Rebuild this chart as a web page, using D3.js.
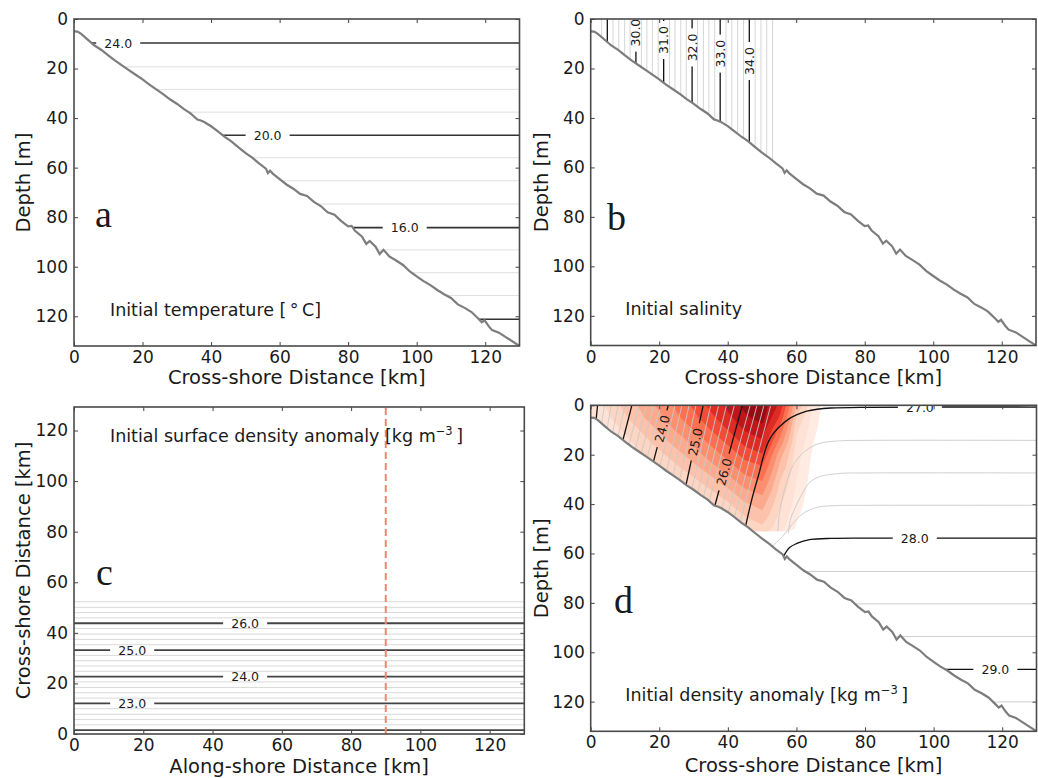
<!DOCTYPE html>
<html><head><meta charset="utf-8">
<script src="https://cdn.jsdelivr.net/npm/d3@7"></script>
<style>
body{margin:0;background:#fff}
svg{display:block}
text{font-family:"DejaVu Sans",sans-serif;fill:#1a1a1a}
</style>
</head><body>
<svg id="chart" width="1038" height="778"></svg>
<script>
// ---------------- DATA ----------------
const xTicks = [0,20,40,60,80,100,120];
const yTicks = [0,20,40,60,80,100,120];

// bathymetry (cross-shore km, depth m)
const bathyX = [0,1,2,4,6,8,10,12,14,16,18,20,22,24,26,28,30,32,34,36,37,38,40,42,44,46,48,50,52,54,56,56.6,57.2,58,60,62,64,66,68,70,72,74,76,78,80,81,82,84,85.3,86.3,88,89.2,90.3,92,94,96,98,100,102,104,106,108,110,112,114,116,118,119,119.8,121,122,124,126,128,130];
const bathyDepth = [5.0,5.1,5.9,8.3,10.7,12.5,14.7,16.8,18.7,20.6,22.5,24.4,26.5,28.4,30.3,32.4,34.2,36.3,38.1,40.6,41.0,41.6,43.3,45.4,47.6,49.5,51.8,54.0,56.0,58.3,60.4,62.2,61.2,62.4,64.6,66.8,68.5,70.6,71.4,73.8,75.5,78.0,79.0,81.6,83.7,83.5,85.5,87.8,90.8,89.6,91.9,94.9,93.2,95.8,97.5,99.3,101.9,103.9,105.8,107.4,109.4,111.1,112.6,115.2,116.6,118.3,121.0,122.4,121.6,124.0,125.6,126.6,128.4,130.2,132.0];

// panel a: temperature contours (horizontal)
const tempLevels = [24,23,22,21,20,19,18,17,16,15,14,13,12];
const tempDepth  = [9.7,19.3,28.4,37.6,46.9,56.0,65.3,74.7,84.2,93.2,102.4,111.6,121.2];
const tempLabelLevels = [24,20,16];
const tempLabelX      = [12.9,56.5,96.5];

// panel b: salinity contours (vertical)
const saltLevels = [28.8,29.0,29.2,29.4,29.6,29.8,30.0,30.2,30.4,30.6,30.8,31.0,31.2,31.4,31.6,31.8,32.0,32.2,32.4,32.6,32.8,33.0,33.2,33.4,33.6,33.8,34.0,34.2,34.4,34.6,34.8];
const saltX      = [3.2,4.85,6.5,8.2,9.9,11.5,13.2,14.8,16.4,18.0,19.7,21.3,23.0,24.6,26.3,27.9,29.6,31.2,32.9,34.5,36.2,37.8,39.5,41.2,42.9,44.6,46.3,48.0,49.7,51.4,53.1];
const saltLabelLevels = [30,31,32,33,34];
const saltLabelDepth  = [5.5,8.5,11.5,14.0,17.0];

// panel c: surface density contours (horizontal)
const sdLevels = [22.0,22.2,22.4,22.6,22.8,23.0,23.2,23.4,23.6,23.8,24.0,24.2,24.4,24.6,24.8,25.0,25.2,25.4,25.6,25.8,26.0,26.2,26.4,26.6,26.8];
const sdY      = [1.5,3.6,5.7,7.8,10.0,12.1,14.2,16.3,18.4,20.6,22.7,24.8,26.9,29.0,31.1,33.2,35.3,37.4,39.5,41.7,43.8,45.9,48.0,50.1,52.3];
const sdLabelLevels = [26,25,24,23];
const sdLabelX      = [49.4,16.8,49.4,16.8];
const sectionX = 90;

// panel d: plume (tilted) density contours
const plumeLevels = [22.0,22.2,22.4,22.6,22.8,23.0,23.2,23.4,23.6,23.8,24.0,24.2,24.4,24.6,24.8,25.0,25.2,25.4,25.6,25.8,26.0,26.2,26.4,26.6,26.8];
const plumeTopX   = [2.0,4.0,6.0,8.0,10.0,12.0,14.1,16.2,18.3,20.4,22.6,24.6,26.6,28.7,30.7,32.8,35.0,37.3,39.6,41.9,44.2,46.5,48.5,50.5,52.5];
const plumeBotX   = [1.6,3.2,4.8,6.4,8.0,9.4,11.2,13.0,14.8,16.5,18.3,20.2,22.1,24.0,25.9,27.8,29.5,31.2,32.9,34.6,36.2,38.2,40.1,41.9,43.6];
const plumeLabelLevels = [24,25,26];
const plumeLabelDepth  = [9.5,14.8,27.0];

// panel d: shelf density contours (x km, depth m)
const shelfLevels = [27.0,27.25,27.5,27.75,28.0,28.25,28.5,28.75,29.0,29.25];
const shelfPaths = [
  [[45.0,50],[47,38],[49.2,27],[50.5,20],[51.8,14.8],[53.5,11],[55.2,8.5],[57.5,5.8],[60,3.9],[63,2.4],[66,1.6],[70,1.1],[80,0.8],[130,0.7]],
  [[54.6,51],[55,44],[56.2,36],[58.6,25.5],[61,20.5],[63.9,17.2],[67,15.3],[72.6,14.4],[80,14.2],[130,14.2]],
  [[57.6,52],[58.3,46],[60,40.4],[62,35],[63.9,31.2],[67,28.8],[72.6,27.6],[80,27.4],[130,27.4]],
  [[53,57],[56,53],[59.5,47],[62.5,43.3],[66.3,41.2],[72,40.6],[80,40.5],[130,40.5]],
  [[56.3,61],[58,57.6],[60,56],[62,55],[64.2,54.3],[70,53.9],[80,53.8],[130,53.8]],
  [[60,67.3],[130,67.3]],
  [[70,80.4],[130,80.4]],
  [[80,93.6],[130,93.6]],
  [[95,106.9],[130,106.9]],
  [[110,120.1],[130,120.1]]
];
const shelfLabelLevels = [27.0,28.0,29.0];
const shelfLabelX      = [96,94.5,118];

// panel d: shading field (Reds intensity) on grid
const heatX = [0,5,10,15,20,25,30,35,40,45,50,55,60,65,70];
const heatDepth = [0,5,10,15,20,25,30,35,40,45,50];
const heatRows = [
  [0.09,0.14,0.21,0.28,0.36,0.45,0.55,0.66,0.77,0.87,0.90,0.72,0.25,0.07,0],
  [0.07,0.12,0.18,0.25,0.32,0.41,0.50,0.60,0.71,0.82,0.88,0.62,0.18,0.06,0],
  [0.06,0.10,0.14,0.20,0.27,0.35,0.43,0.53,0.63,0.75,0.80,0.50,0.14,0.05,0],
  [0.05,0.08,0.11,0.16,0.22,0.29,0.36,0.45,0.55,0.66,0.72,0.40,0.12,0.04,0],
  [0.04,0.07,0.09,0.13,0.17,0.23,0.30,0.38,0.46,0.57,0.62,0.30,0.10,0.03,0],
  [0.03,0.06,0.08,0.10,0.13,0.18,0.24,0.31,0.39,0.48,0.52,0.25,0.09,0.025,0],
  [0.03,0.05,0.07,0.09,0.11,0.13,0.18,0.24,0.31,0.40,0.44,0.20,0.08,0.02,0],
  [0.02,0.04,0.06,0.08,0.10,0.11,0.13,0.18,0.24,0.32,0.36,0.17,0.07,0.015,0],
  [0.02,0.03,0.05,0.07,0.09,0.10,0.11,0.13,0.18,0.25,0.29,0.14,0.06,0.01,0],
  [0.02,0.03,0.04,0.06,0.08,0.09,0.10,0.11,0.13,0.19,0.23,0.12,0.045,0.01,0],
  [0.02,0.03,0.04,0.05,0.07,0.08,0.09,0.10,0.11,0.14,0.17,0.10,0.035,0.01,0]
];
const heatThresholds = [0.04,0.08,0.13,0.19,0.26,0.34,0.43,0.53,0.63,0.74,0.84];
const heatMaxDepth = 51;

// ---------------- DRAWING ----------------
const svg = d3.select('#chart');
const defs = svg.append('defs');
let uid = 0;
const bathyScale = d3.scaleLinear().domain(bathyX).range(bathyDepth);

function panel(box, yDom, invert) {
  const x = d3.scaleLinear().domain([0,130]).range([box.l, box.r]);
  const y = d3.scaleLinear().domain(yDom).range(invert ? [box.t, box.b] : [box.b, box.t]);
  const g = svg.append('g');
  const id = 'rc' + (uid++);
  defs.append('clipPath').attr('id', id).append('rect')
    .attr('x', box.l).attr('y', box.t).attr('width', box.r - box.l).attr('height', box.b - box.t);
  return {x, y, g, box, rc: id};
}
function waterClip(p) {
  const id = 'wc' + (uid++);
  const pts = [[0,0],[130,0]].concat(bathyX.map((v,i)=>[v,bathyDepth[i]]).reverse());
  defs.append('clipPath').attr('id', id).append('path')
    .attr('d', d3.line().x(d=>p.x(d[0])).y(d=>p.y(d[1]))(pts) + 'Z');
  return id;
}
function addLabel(layer, lineSel, px, py, angle, txt, fs, pad) {
  const id = 'mk' + (uid++);
  const w = txt.length * 0.6 * fs + pad, h = fs + 2;
  const m = defs.append('mask').attr('id', id).attr('maskUnits','userSpaceOnUse')
    .attr('x',0).attr('y',0).attr('width',1038).attr('height',778);
  m.append('rect').attr('x',0).attr('y',0).attr('width',1038).attr('height',778).attr('fill','#fff');
  m.append('rect').attr('x',-w/2).attr('y',-h/2).attr('width',w).attr('height',h).attr('fill','#000')
    .attr('transform',`translate(${px},${py}) rotate(${angle})`);
  lineSel.attr('mask', `url(#${id})`);
  layer.append('text').attr('transform',`translate(${px},${py}) rotate(${angle})`)
    .attr('text-anchor','middle').attr('dy','0.36em').attr('font-size',fs).attr('fill','#222').text(txt);
}
function bathyLine(p) {
  p.g.append('path')
    .attr('clip-path', `url(#${p.rc})`)
    .attr('d', d3.line().x((d,i)=>p.x(bathyX[i])).y((d,i)=>p.y(bathyDepth[i]))(bathyX))
    .attr('fill','none').attr('stroke','#7d7d7d').attr('stroke-width',2.2);
}
function axes(p, xlab, xlabY, ylab, ylabX) {
  const {x, y, g, box} = p;
  const fmt = d3.format('d');
  const style = sel => {
    sel.select('.domain').remove();
    sel.attr('font-family','DejaVu Sans, sans-serif').attr('font-size',17);
    sel.selectAll('.tick line').attr('stroke','#444').attr('stroke-width',1);
    sel.selectAll('.tick text').attr('fill','#1a1a1a');
  };
  g.append('g').attr('transform',`translate(0,${box.b})`)
    .call(d3.axisBottom(x).tickValues(xTicks).tickFormat(fmt).tickSize(-4).tickPadding(5)).call(style);
  g.append('g').attr('transform',`translate(0,${box.t})`)
    .call(d3.axisTop(x).tickValues(xTicks).tickFormat('').tickSize(-4)).call(style);
  g.append('g').attr('transform',`translate(${box.l},0)`)
    .call(d3.axisLeft(y).tickValues(yTicks).tickFormat(fmt).tickSize(-4).tickPadding(6)).call(style);
  g.append('g').attr('transform',`translate(${box.r},0)`)
    .call(d3.axisRight(y).tickValues(yTicks).tickFormat('').tickSize(-4)).call(style);
  g.append('rect').attr('x',box.l).attr('y',box.t).attr('width',box.r-box.l).attr('height',box.b-box.t)
    .attr('fill','none').attr('stroke','#4a4a4a').attr('stroke-width',1.6);
  g.append('text').attr('x',(box.l+box.r)/2).attr('y',xlabY).attr('text-anchor','middle')
    .attr('font-size',19.5).text(xlab);
  g.append('text').attr('transform',`translate(${ylabX},${(box.t+box.b)/2}) rotate(-90)`)
    .attr('text-anchor','middle').attr('font-size',19.5).text(ylab);
}
function letter(p, txt, lx, ly) {
  p.g.append('text').attr('x',lx).attr('y',ly)
    .style('font-family','"Liberation Serif", serif').attr('font-size',38).text(txt);
}
function unitsText(p, tx, ty, main, sup, tail) {
  const t = p.g.append('text').attr('x',tx).attr('y',ty).attr('font-size',17.5);
  t.append('tspan').text(main);
  if (sup) {
    t.append('tspan').attr('dy',-7).attr('font-size',11.5).text(sup);
    t.append('tspan').attr('dy',7).text(tail);
  }
}

// ---- panel a ----
const pa = panel({l:74, r:519.5, t:19, b:346}, [0,132], true);
{
  const wc = waterClip(pa);
  const lg = pa.g.append('g').attr('clip-path', `url(#${wc})`);
  const lab = pa.g.append('g').attr('clip-path', `url(#${pa.rc})`);
  const isMajor = v => v % 4 === 0;
  tempLevels.forEach((lev,i) => { if (!isMajor(lev))
    lg.append('line').attr('x1',pa.x(0)).attr('x2',pa.x(130)).attr('y1',pa.y(tempDepth[i])).attr('y2',pa.y(tempDepth[i]))
      .attr('stroke','#e0e0e0').attr('stroke-width',1); });
  tempLevels.forEach((lev,i) => { if (isMajor(lev)) {
    const ln = lg.append('line').attr('x1',pa.x(0)).attr('x2',pa.x(130)).attr('y1',pa.y(tempDepth[i])).attr('y2',pa.y(tempDepth[i]))
      .attr('stroke','#333').attr('stroke-width',1.6);
    const k = tempLabelLevels.indexOf(lev);
    if (k >= 0) addLabel(lab, ln, pa.x(tempLabelX[k]), pa.y(tempDepth[i]), 0, lev.toFixed(1), 12.5, 14);
  }});
  bathyLine(pa);
  axes(pa, 'Cross-shore Distance [km]', 384, 'Depth [m]', 30);
  letter(pa, 'a', 95, 227);
  unitsText(pa, 110, 316, 'Initial temperature [\u2009°\u2009C]');
}

// ---- panel b ----
const pb = panel({l:590.7, r:1036, t:19, b:345.5}, [0,132], true);
{
  const wc = waterClip(pb);
  const lg = pb.g.append('g').attr('clip-path', `url(#${wc})`);
  const lab = pb.g.append('g').attr('clip-path', `url(#${pb.rc})`);
  const isMajor = v => Math.abs(v - Math.round(v)) < 1e-6;
  saltLevels.forEach((lev,i) => { if (!isMajor(lev))
    lg.append('line').attr('x1',pb.x(saltX[i])).attr('x2',pb.x(saltX[i])).attr('y1',pb.y(0)).attr('y2',pb.y(132))
      .attr('stroke','#d6d6d6').attr('stroke-width',1); });
  saltLevels.forEach((lev,i) => { if (isMajor(lev)) {
    const ln = lg.append('line').attr('x1',pb.x(saltX[i])).attr('x2',pb.x(saltX[i])).attr('y1',pb.y(0)).attr('y2',pb.y(132))
      .attr('stroke','#111').attr('stroke-width',1.3);
    const k = saltLabelLevels.indexOf(Math.round(lev));
    if (k >= 0) addLabel(lab, ln, pb.x(saltX[i]), pb.y(saltLabelDepth[k]), -90, lev.toFixed(1), 12.5, 8);
  }});
  bathyLine(pb);
  axes(pb, 'Cross-shore Distance [km]', 384, 'Depth [m]', 548);
  letter(pb, 'b', 607, 230);
  unitsText(pb, 625.3, 315, 'Initial salinity');
}

// ---- panel c ----
const pc = panel({l:74, r:524.3, t:407, b:734}, [0,129.3], false);
{
  const lg = pc.g.append('g').attr('clip-path', `url(#${pc.rc})`);
  const lab = pc.g.append('g').attr('clip-path', `url(#${pc.rc})`);
  const isMajor = v => Math.abs(v - Math.round(v)) < 1e-6;
  sdLevels.forEach((lev,i) => { if (!isMajor(lev))
    lg.append('line').attr('x1',pc.x(0)).attr('x2',pc.x(130)).attr('y1',pc.y(sdY[i])).attr('y2',pc.y(sdY[i]))
      .attr('stroke','#d9d9d9').attr('stroke-width',1); });
  sdLevels.forEach((lev,i) => { if (isMajor(lev)) {
    const ln = lg.append('line').attr('x1',pc.x(0)).attr('x2',pc.x(130)).attr('y1',pc.y(sdY[i])).attr('y2',pc.y(sdY[i]))
      .attr('stroke','#444').attr('stroke-width',1.8);
    const k = sdLabelLevels.indexOf(Math.round(lev));
    if (k >= 0) addLabel(lab, ln, pc.x(sdLabelX[k]), pc.y(sdY[i]), 0, lev.toFixed(1), 12.5, 14);
  }});
  lg.append('line').attr('x1',pc.x(sectionX)).attr('x2',pc.x(sectionX)).attr('y1',pc.y(0)).attr('y2',pc.y(129.3))
    .attr('stroke','#f2856d').attr('stroke-width',2).attr('stroke-dasharray','7,4');
  axes(pc, 'Along-shore Distance [km]', 773, 'Cross-shore Distance [km]', 30);
  letter(pc, 'c', 96, 585);
  unitsText(pc, 110, 442, 'Initial surface density anomaly [kg m', '\u22123', '\u2009]');
}

// ---- panel d ----
const pd = panel({l:590.7, r:1036.5, t:405.3, b:731.3}, [0,132], true);
{
  const wc = waterClip(pd);
  // shading
  const dc = 'dc' + (uid++);
  defs.append('clipPath').attr('id', dc).append('rect')
    .attr('x', pd.x(0)).attr('y', pd.y(0)).attr('width', pd.x(130)-pd.x(0)).attr('height', pd.y(heatMaxDepth)-pd.y(0));
  const hg = pd.g.append('g').attr('clip-path', `url(#${wc})`).append('g').attr('clip-path', `url(#${dc})`);
  const nx = heatX.length, ny = heatDepth.length;
  const flat = [].concat(...heatRows);
  const conts = d3.contours().size([nx, ny]).thresholds(heatThresholds)(flat);
  const sx = heatX[1]-heatX[0], sy = heatDepth[1]-heatDepth[0];
  const proj = d3.geoTransform({ point: function(px, py) {
    this.stream.point(pd.x(heatX[0] + (px - 0.5) * sx), pd.y(heatDepth[0] + (py - 0.5) * sy));
  }});
  const gp = d3.geoPath(proj);
  conts.forEach((c,i) => {
    const lo = heatThresholds[i], hi = i+1 < heatThresholds.length ? heatThresholds[i+1] : 0.96;
    hg.append('path').attr('d', gp(c)).attr('fill', d3.interpolateReds((lo+hi)/2)).attr('stroke','none');
  });
  const lg = pd.g.append('g').attr('clip-path', `url(#${wc})`);
  const lab = pd.g.append('g').attr('clip-path', `url(#${pd.rc})`);
  const isMajor = v => Math.abs(v - Math.round(v)) < 1e-6;
  const curve = d3.line().x(d=>pd.x(d[0])).y(d=>pd.y(d[1])).curve(d3.curveCatmullRom.alpha(0.5));
  plumeLevels.forEach((lev,i) => { if (!isMajor(lev))
    lg.append('line').attr('x1',pd.x(plumeTopX[i])).attr('y1',pd.y(0))
      .attr('x2',pd.x(plumeBotX[i])).attr('y2',pd.y(bathyScale(plumeBotX[i])))
      .attr('stroke','#c9c9c9').attr('stroke-width',0.9); });
  shelfLevels.forEach((lev,i) => { if (!isMajor(lev))
    lg.append('path').attr('d', curve(shelfPaths[i])).attr('fill','none').attr('stroke','#c9c9c9').attr('stroke-width',0.9); });
  plumeLevels.forEach((lev,i) => { if (isMajor(lev)) {
    const xb = plumeBotX[i], db = bathyScale(xb);
    const ln = lg.append('line').attr('x1',pd.x(plumeTopX[i])).attr('y1',pd.y(0))
      .attr('x2',pd.x(xb)).attr('y2',pd.y(db)).attr('stroke','#111').attr('stroke-width',1.3);
    const k = plumeLabelLevels.indexOf(Math.round(lev));
    if (k >= 0) {
      const dl = plumeLabelDepth[k];
      const xl = plumeTopX[i] + (xb - plumeTopX[i]) * (dl / db);
      const ang = Math.atan2(pd.y(0) - pd.y(db), pd.x(plumeTopX[i]) - pd.x(xb)) * 180 / Math.PI;
      addLabel(lab, ln, pd.x(xl), pd.y(dl), ang, lev.toFixed(1), 12.5, 8);
    }
  }});
  shelfLevels.forEach((lev,i) => { if (isMajor(lev)) {
    const ln = lg.append('path').attr('d', curve(shelfPaths[i])).attr('fill','none').attr('stroke','#111').attr('stroke-width',1.3);
    const k = shelfLabelLevels.indexOf(lev);
    if (k >= 0) {
      const last = shelfPaths[i][shelfPaths[i].length-1];
      addLabel(lab, ln, pd.x(shelfLabelX[k]), pd.y(last[1]), 0, lev.toFixed(1), 12.5, 14);
    }
  }});
  bathyLine(pd);
  axes(pd, 'Cross-shore Distance [km]', 772, 'Depth [m]', 548);
  letter(pd, 'd', 614, 613);
  unitsText(pd, 625.3, 701, 'Initial density anomaly [kg m', '\u22123', '\u2009]');
}
</script>
</body></html>
